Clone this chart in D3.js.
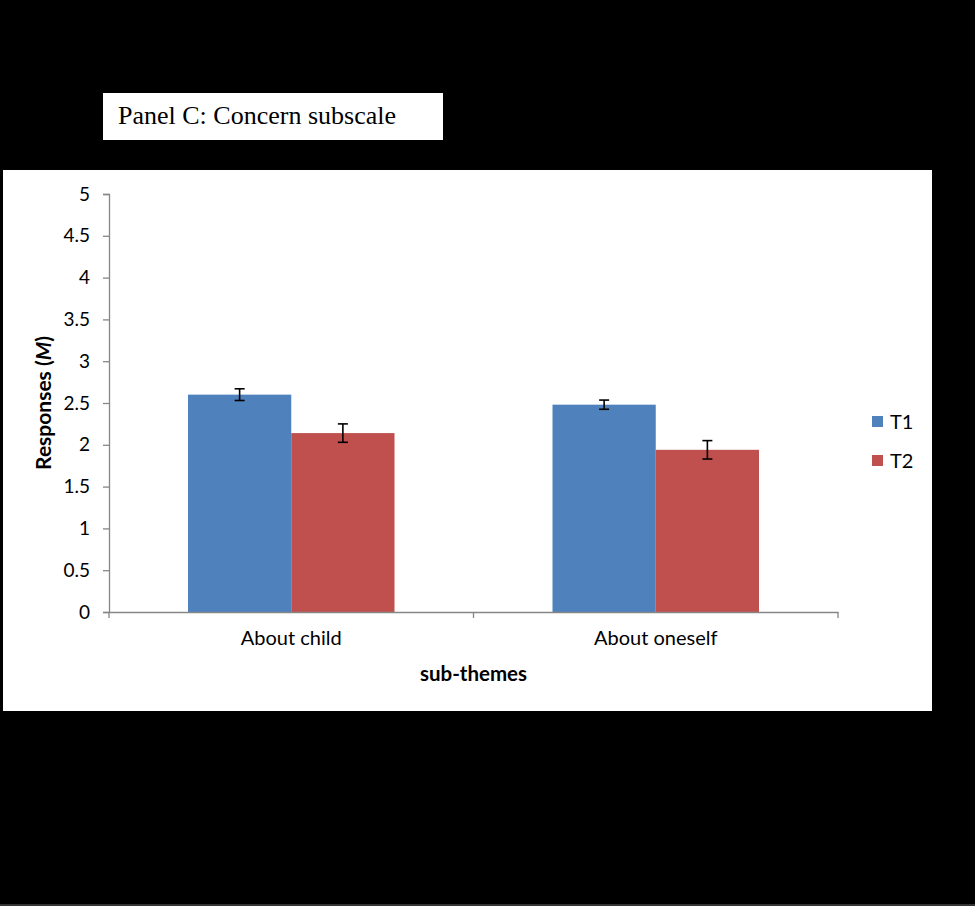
<!DOCTYPE html>
<html>
<head>
<meta charset="utf-8">
<script src="https://cdn.jsdelivr.net/npm/d3@7/dist/d3.min.js"></script>
<style>
  html, body { margin: 0; padding: 0; background: #000; }
  svg { display: block; }
</style>
</head>
<body>
<svg id="chart" width="975" height="906"></svg>
<script>
// ---- data ----
const categories = ["About child", "About oneself"];
const seriesNames = ["T1", "T2"];
const t1Values = [2.60, 2.48];
const t2Values = [2.14, 1.94];
const t1Errors = [0.07, 0.055];
const t2Errors = [0.11, 0.11];
const yTicks = [0, 0.5, 1, 1.5, 2, 2.5, 3, 3.5, 4, 4.5, 5];
const seriesColors = ["#4F81BD", "#C0504D"];

const titleText = "Panel C: Concern subscale";
const yTitle = "Responses ";
const yTitleItalic = "M";
const xTitle = "sub-themes";

const svg = d3.select("#chart");
const font = "Lato, 'Open Sans', 'Liberation Sans', sans-serif";

// background
svg.append("rect").attr("x", 0).attr("y", 0).attr("width", 975).attr("height", 906).attr("fill", "#000");
// chart area
svg.append("rect").attr("x", 3).attr("y", 170).attr("width", 929).attr("height", 541).attr("fill", "#fff");
// title box
svg.append("rect").attr("x", 103).attr("y", 93).attr("width", 340).attr("height", 47).attr("fill", "#fff");
svg.append("text").attr("x", 118).attr("y", 124)
  .attr("font-family", "'Liberation Serif', 'Times New Roman', serif")
  .attr("font-size", 26).attr("fill", "#000").text(titleText);

const plot = { left: 109, right: 838, top: 194, bottom: 612 };

const x0 = d3.scaleBand().domain(categories).range([plot.left, plot.right]).paddingInner(0).paddingOuter(0);
const x1 = d3.scaleBand().domain(seriesNames).range([79, x0.bandwidth() - 79]).padding(0);
const y = d3.scaleLinear().domain([0, 5]).range([plot.bottom, plot.top]);

const data = categories.map((c, i) => ({
  cat: c,
  vals: [
    { s: "T1", v: t1Values[i], e: t1Errors[i], color: seriesColors[0] },
    { s: "T2", v: t2Values[i], e: t2Errors[i], color: seriesColors[1] }
  ]
}));

// bars
const groups = svg.append("g").selectAll("g").data(data).join("g")
  .attr("transform", d => `translate(${x0(d.cat)},0)`);
groups.selectAll("rect").data(d => d.vals).join("rect")
  .attr("x", d => x1(d.s))
  .attr("width", x1.bandwidth())
  .attr("y", d => y(d.v))
  .attr("height", d => y(0) - y(d.v))
  .attr("fill", d => d.color);

// error bars
const eb = groups.selectAll("g.err").data(d => d.vals).join("g").attr("class", "err")
  .attr("stroke", "#000").attr("stroke-width", 1.6);
eb.append("line")
  .attr("x1", d => x1(d.s) + x1.bandwidth() / 2).attr("x2", d => x1(d.s) + x1.bandwidth() / 2)
  .attr("y1", d => y(d.v + d.e)).attr("y2", d => y(d.v - d.e));
eb.append("line")
  .attr("x1", d => x1(d.s) + x1.bandwidth() / 2 - 5).attr("x2", d => x1(d.s) + x1.bandwidth() / 2 + 5)
  .attr("y1", d => y(d.v + d.e)).attr("y2", d => y(d.v + d.e));
eb.append("line")
  .attr("x1", d => x1(d.s) + x1.bandwidth() / 2 - 5).attr("x2", d => x1(d.s) + x1.bandwidth() / 2 + 5)
  .attr("y1", d => y(d.v - d.e)).attr("y2", d => y(d.v - d.e));

// y axis
const yAxis = svg.append("g").attr("transform", `translate(${plot.left},0)`)
  .call(d3.axisLeft(y).tickValues(yTicks).tickSize(6).tickPadding(13).tickFormat(d3.format("")));
yAxis.select(".domain").attr("stroke", "#868686").attr("stroke-width", 1.3);
yAxis.selectAll(".tick line").attr("stroke", "#868686").attr("stroke-width", 1.3);
yAxis.selectAll(".tick text").attr("font-family", font).attr("font-size", 19).attr("fill", "#000");

// x axis
const xAxisG = svg.append("g").attr("transform", `translate(0,${plot.bottom})`)
  .call(d3.axisBottom(x0).tickSize(0).tickPadding(19));
xAxisG.select(".domain").attr("stroke", "#868686").attr("stroke-width", 1.3);
xAxisG.selectAll(".tick text").attr("font-family", font).attr("font-size", 20).attr("fill", "#000");
// category boundary ticks
const boundaries = [plot.left, ...categories.map(c => x0(c) + x0.bandwidth())];
xAxisG.selectAll("line.bound").data(boundaries).join("line").attr("class", "bound")
  .attr("x1", d => d).attr("x2", d => d).attr("y1", 0).attr("y2", 6)
  .attr("stroke", "#868686").attr("stroke-width", 1.3);

// axis titles
const yt = svg.append("text").attr("transform", `translate(51,${(plot.top + plot.bottom) / 2 + 0}) rotate(-90)`)
  .attr("text-anchor", "middle").attr("font-family", font).attr("font-size", 21).attr("font-weight", "bold").attr("fill", "#000");
yt.append("tspan").text(yTitle + "(");
yt.append("tspan").attr("font-style", "italic").text(yTitleItalic);
yt.append("tspan").text(")");

svg.append("text").attr("x", (plot.left + plot.right) / 2).attr("y", 681)
  .attr("text-anchor", "middle").attr("font-family", font).attr("font-size", 20.5).attr("font-weight", "bold")
  .attr("fill", "#000").text(xTitle);

// legend
const legend = svg.append("g").selectAll("g").data(seriesNames).join("g")
  .attr("transform", (d, i) => `translate(872,${416 + i * 39})`);
legend.append("rect").attr("width", 11).attr("height", 11).attr("fill", (d, i) => seriesColors[i]);
legend.append("text").attr("x", 18).attr("y", 5.5).attr("dy", "0.35em")
  .attr("font-family", font).attr("font-size", 20).attr("fill", "#000").text(d => d);

// bottom thin line
svg.append("rect").attr("x", 0).attr("y", 904).attr("width", 975).attr("height", 2).attr("fill", "#333");
</script>
</body>
</html>
